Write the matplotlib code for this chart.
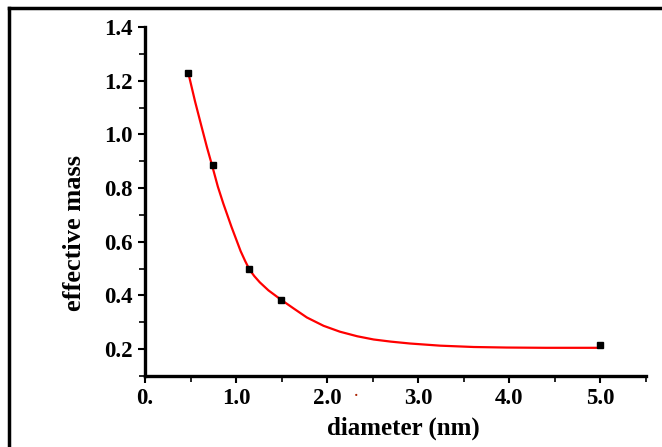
import matplotlib
matplotlib.use("Agg")
import matplotlib.pyplot as plt
from matplotlib.lines import Line2D
from matplotlib.ticker import FixedLocator, FixedFormatter, MultipleLocator

# Measured data points
diam_pts = [0.47, 0.75, 1.14, 1.49, 5.0]
mass_pts = [1.23, 0.885, 0.497, 0.382, 0.216]

# Fitted curve
curve_x = [0.476, 0.55, 0.62, 0.68, 0.74, 0.80, 0.86, 0.95, 1.05, 1.10,
           1.146, 1.20, 1.26, 1.355, 1.49, 1.63, 1.777, 1.96, 2.14, 2.33,
           2.51, 2.70, 2.91, 3.24, 3.61, 3.97, 4.40, 5.0]
curve_y = [1.228, 1.122, 1.030, 0.952, 0.880, 0.805, 0.742, 0.655, 0.565,
           0.528, 0.497, 0.472, 0.449, 0.419, 0.385, 0.352, 0.318, 0.287,
           0.265, 0.248, 0.236, 0.228, 0.221, 0.213, 0.208, 0.206, 0.205,
           0.205]

xticks = [0, 1, 2, 3, 4, 5]
xticklabels = ["0.", "1.0", "2.0", "3.0", "4.0", "5.0"]
yticks = [0.2, 0.4, 0.6, 0.8, 1.0, 1.2, 1.4]
yticklabels = ["0.2", "0.4", "0.6", "0.8", "1.0", "1.2", "1.4"]

plt.rcParams['font.family'] = ['Liberation Serif', 'DejaVu Serif']

fig = plt.figure(figsize=(6.62, 4.47), dpi=100)
W, H = 662, 447
ax = fig.add_axes([145 / W, 1 - 376 / H, (646 - 145) / W, (376 - 27) / H])

ax.plot(curve_x, curve_y, color='#ff0000', lw=1.6, zorder=2,
        solid_joinstyle='round')
ax.plot(diam_pts, mass_pts, 's', color='black', ms=4.5, zorder=3)

ax.set_xlim(0, 5.5)
ax.set_ylim(0.1, 1.4)

ax.xaxis.set_major_locator(FixedLocator(xticks))
ax.xaxis.set_major_formatter(FixedFormatter(xticklabels))
ax.xaxis.set_minor_locator(MultipleLocator(0.5))
ax.yaxis.set_major_locator(FixedLocator(yticks))
ax.yaxis.set_major_formatter(FixedFormatter(yticklabels))
ax.yaxis.set_minor_locator(MultipleLocator(0.1))

for s in ['top', 'right']:
    ax.spines[s].set_visible(False)
for s in ['left', 'bottom']:
    ax.spines[s].set_linewidth(2.4)
    ax.spines[s].set_color('black')

ax.tick_params(which='major', direction='out', length=5, width=1.5,
               labelsize=16.5, pad=4)
ax.tick_params(which='minor', direction='out', length=4, width=1.2)
for lab in ax.get_xticklabels() + ax.get_yticklabels():
    lab.set_fontweight('bold')

ax.set_xlabel('diameter (nm)', fontsize=18, fontweight='bold')
ax.set_ylabel('effective mass', fontsize=19, fontweight='bold')
ax.xaxis.set_label_coords(0.515, (376 - 417) / 349)
ax.yaxis.set_label_coords((86 - 145) / 501, (376 - 233) / 349)

# stray dot near the 2.0 label
fig.text(356 / W, 1 - 396 / H, '\u00b7', fontsize=14, color='#aa2200',
         ha='center', va='center')

# frame edges (left and top)
fig.add_artist(Line2D([9 / W, 9 / W], [0, 1 - 8 / H], color='black', lw=2.5,
                      transform=fig.transFigure))
fig.add_artist(Line2D([9 / W, 1], [1 - 8 / H, 1 - 8 / H], color='black', lw=2.5,
                      transform=fig.transFigure))

fig.savefig('out.png', dpi=100)
